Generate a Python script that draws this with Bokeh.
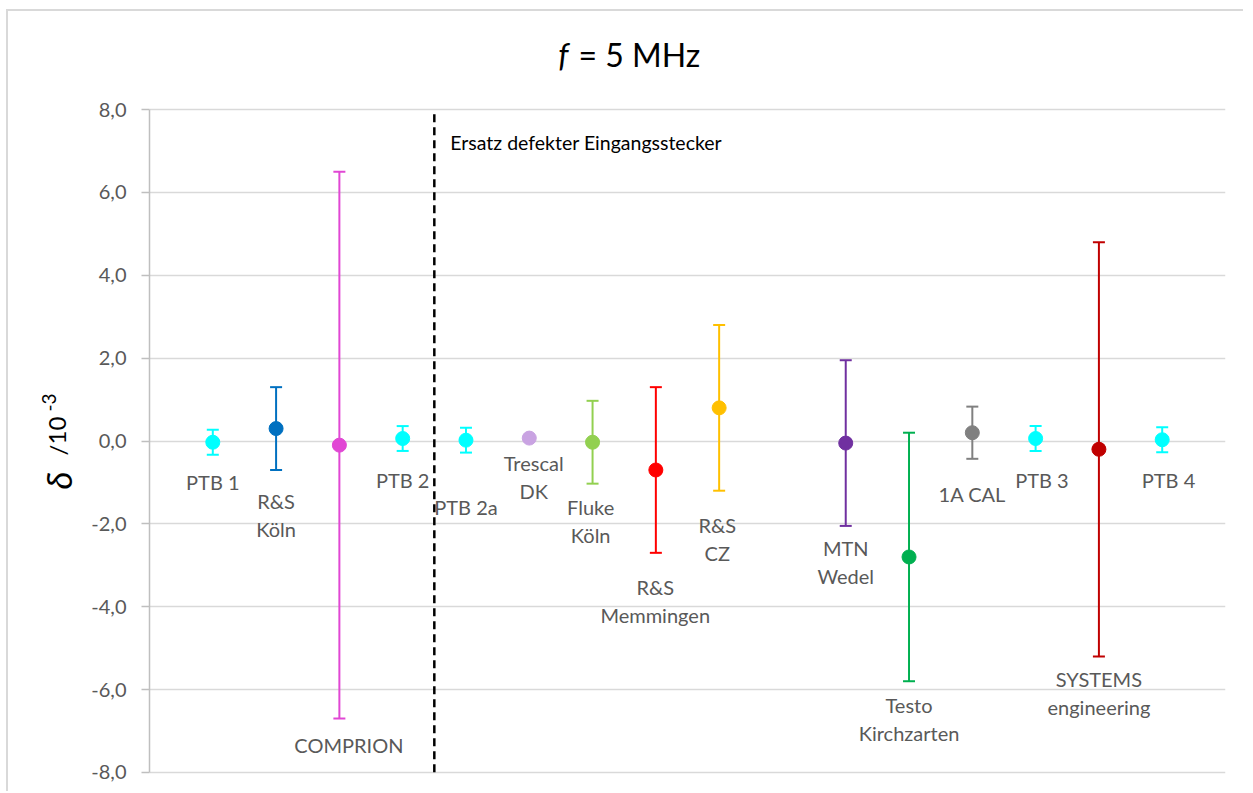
import math
from bokeh.plotting import figure
from bokeh.models import Range1d, FixedTicker, Label, ColumnDataSource
from bokeh.core.properties import value
from bokeh.embed import file_html
from bokeh.resources import INLINE

# ---------------- data ----------------
labs = ["PTB 1", "R&S\nKöln", "COMPRION", "PTB 2", "PTB 2a", "Trescal\nDK",
        "Fluke\nKöln", "R&S\nMemmingen", "R&S\nCZ", "MTN\nWedel",
        "Testo\nKirchzarten", "1A CAL", "PTB 3", "SYSTEMS\nengineering", "PTB 4"]
x_pos = [1, 2, 3, 4, 5, 6, 7, 8, 9, 11, 12, 13, 14, 15, 16]
delta = [-0.03, 0.30, -0.10, 0.06, 0.02, 0.07, -0.03, -0.70, 0.80, -0.05,
         -2.80, 0.20, 0.06, -0.20, 0.03]
unc = [0.30, 1.00, 6.60, 0.30, 0.30, 0.00, 1.00, 2.00, 2.00, 2.00,
       3.00, 0.63, 0.30, 5.00, 0.30]
colors = ["#00FFFF", "#0070C0", "#E147D4", "#00FFFF", "#00FFFF", "#C9A3E2",
          "#92D050", "#FF0000", "#FFC000", "#7030A0", "#00B050", "#808080",
          "#00FFFF", "#C00000", "#00FFFF"]
label_x = [1.0, 2.0, 3.15, 4.0, 5.0, 6.07, 6.97, 7.99, 8.97, 11.0, 12.0, 13.0, 14.1, 15.0, 16.1]
label_y = [-1.0, -1.79, -7.34, -0.94, -1.59, -0.86, -1.94, -3.87, -2.37, -2.92,
           -6.72, -1.29, -0.93, -6.09, -0.94]
y_ticks = [-8, -6, -4, -2, 0, 2, 4, 6, 8]
y_tick_labels = ["-8,0", "-6,0", "-4,0", "-2,0", "0,0", "2,0", "4,0", "6,0", "8,0"]
divider_x = 4.5
divider_text = "Ersatz defekter Eingangsstecker"

FONT = "Lato"
FRAME_COL = "#D9D9D9"

p = figure(width=1257, height=782, output_backend="svg", toolbar_location=None,
           x_range=Range1d(0, 17), y_range=Range1d(-8.1, 8.1),
           min_border_left=159, min_border_right=18,
           min_border_top=96, min_border_bottom=15)
p.title.visible = False
# chart-area frame (left and top edge) painted as CSS background behind a transparent canvas
p.styles = {
    "margin-left": "-14px", "margin-top": "9px",
    "background": (f"linear-gradient({FRAME_COL}, {FRAME_COL}) 20px 0px / 2px 100% no-repeat, "
                   f"linear-gradient({FRAME_COL}, {FRAME_COL}) 20px 0px / 100% 2px no-repeat"),
}
p.outline_line_color = None
p.background_fill_color = "white"
p.border_fill_color = None

p.xaxis.visible = False
p.xgrid.grid_line_color = None
p.ygrid.grid_line_color = "#D9D9D9"
p.ygrid.grid_line_width = 1.5

yax = p.yaxis[0]
yax.ticker = FixedTicker(ticks=y_ticks)
yax.major_label_overrides = {t: s for t, s in zip(y_ticks, y_tick_labels)}
yax.bounds = (y_ticks[0], y_ticks[-1])
yax.axis_line_color = "#BFBFBF"
yax.axis_line_width = 1.5
yax.major_tick_line_color = "#BFBFBF"
yax.major_tick_line_width = 1.5
yax.major_tick_out = 8
yax.major_tick_in = 0
yax.minor_tick_line_color = None
yax.major_label_standoff = 15
yax.major_label_text_font = FONT
yax.major_label_text_font_size = "20px"
yax.major_label_text_color = "#595959"

# divider
p.segment(x0=[divider_x], y0=[y_ticks[0]], x1=[divider_x], y1=[y_ticks[-1]],
          line_color="black", line_width=2.5, line_dash="8 5")
p.add_layout(Label(x=divider_x, y=7.2, x_offset=16, text=divider_text,
                   text_font=FONT, text_font_size="19.5px", text_color="black",
                   text_baseline="middle", text_align="left"))

# error bars
ex = [x for x, u in zip(x_pos, unc) if u > 0]
ed = [d for d, u in zip(delta, unc) if u > 0]
eu = [u for u in unc if u > 0]
ec = [c for c, u in zip(colors, unc) if u > 0]
err = ColumnDataSource(dict(x=ex, lo=[d - u for d, u in zip(ed, eu)],
                            hi=[d + u for d, u in zip(ed, eu)], c=ec))
p.segment(x0="x", y0="lo", x1="x", y1="hi", line_color="c", line_width=2, source=err)
p.scatter(x="x", y="lo", marker="dash", size=12, line_color="c", line_width=2, source=err)
p.scatter(x="x", y="hi", marker="dash", size=12, line_color="c", line_width=2, source=err)

pts = ColumnDataSource(dict(x=x_pos, y=delta, c=colors))
p.scatter(x="x", y="y", marker="circle", size=14, fill_color="c", line_color="c",
          line_width=1, source=pts)

lab = ColumnDataSource(dict(x=label_x, y=label_y, t=labs))
p.text(x="x", y="y", text="t", source=lab, text_align="center", text_baseline="middle",
       text_font=value(FONT), text_font_size="20px", text_color="#595959",
       text_line_height=1.17)

# title  f = 5 MHz  (canvas coordinates, in the top panel so it is not clipped)
p.add_layout(Label(x=582, y=45, x_units="canvas", y_units="canvas", text="f",
                   text_font=FONT, text_font_style="italic",
                   text_font_size="32px", text_color="black", text_align="right",
                   text_baseline="middle"), "above")
p.add_layout(Label(x=592, y=45, x_units="canvas", y_units="canvas", text="= 5 MHz",
                   text_font=FONT, text_font_size="32px", text_color="black",
                   text_align="left", text_baseline="middle"), "above")

# y-axis label  δ / 10^-3
ylab_parts = [("δ", 71, 480, "35px", "italic"),
              ("/", 71, 446, "24px", "normal"),
              ("10", 71, 435, "24px", "normal"),
              ("-3", 62, 402, "19px", "normal")]
for txt, cx, cy, fs, st in ylab_parts:
    p.add_layout(Label(x=cx, y=cy, x_units="canvas", y_units="canvas", text=txt,
                       angle=math.pi / 2, text_font=FONT, text_font_style=st,
                       text_font_size=fs, text_color="black",
                       text_align="left", text_baseline="middle"), "left")

open("out.html", "w").write(file_html(p, INLINE))
